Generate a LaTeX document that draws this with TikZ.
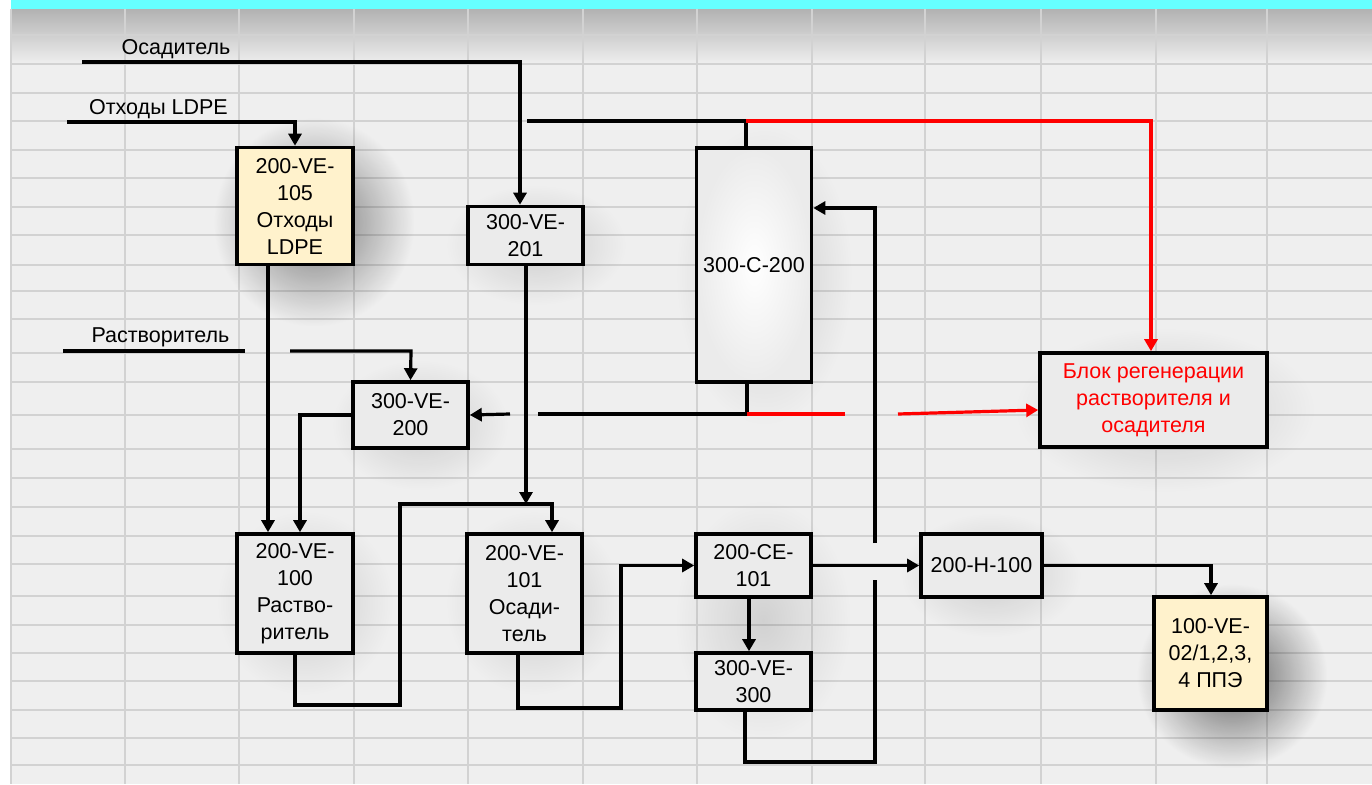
\documentclass[tikz,border=0pt]{standalone}
\usepackage{fontspec}
\setmainfont{Liberation Sans}
\usetikzlibrary{arrows.meta,fadings}
\definecolor{bgc}{HTML}{EFEFEF}
\definecolor{gridc}{HTML}{D2D2D2}
\definecolor{boxc}{HTML}{EBEBEB}
\definecolor{yelc}{HTML}{FFF2CC}
\definecolor{cyanc}{HTML}{66FFFF}
\definecolor{topgrey}{HTML}{B2B2B2}
\definecolor{redc}{HTML}{FF0000}
\tikzfading[name=fuzzy, inner color=transparent!0, outer color=transparent!100]
\newcommand\softblob[5]{\fill[black, opacity=#5, path fading=fuzzy] ({#1-#3},{#2-#4}) rectangle ({#1+#3},{#2+#4});}
\begin{document}
\begin{tikzpicture}[x=1pt,y=-1pt,
  every node/.style={font=\fontsize{21.5}{27}\selectfont},
  box/.style={draw=black, line width=3.6pt, inner sep=0pt, align=center, fill=boxc},
  ybox/.style={box, fill=yelc},
  lbl/.style={inner sep=0pt, anchor=base},
  wire/.style={line width=3.2pt, draw=black},
  warr/.style={wire, -{Triangle[length=12pt,width=13pt]}},
  rwire/.style={line width=3.2pt, draw=redc},
  rwarr/.style={rwire, -{Triangle[length=12pt,width=13pt]}},
  gridline/.style={draw=gridc, line width=1.6pt}
]
\useasboundingbox (0,0) rectangle (1372,784);
% background
\fill[white] (0,0) rectangle (1372,784);
\fill[bgc] (11,9) rectangle (1372,784);
\shade[top color=topgrey, bottom color=bgc] (11,9) rectangle (1372,64);
\foreach \gx in {11,125,239,354,468,583,697,812,925,1041,1156,1267}
  \draw[gridline] (\gx,9) -- (\gx,784);
\foreach \gy in {35,64,93,121,150,178,207,235,265,291,319,353,382,415,449,478,507,536,564,596,625,653,681,710,738,765}
  \draw[gridline] (11,\gy) -- (1372,\gy);
\fill[cyanc] (11,0) rectangle (1372,9);

% soft shadows
\softblob{314}{222}{100}{104}{0.5}
\softblob{1232}{676}{95}{92}{0.6}
\softblob{536}{245}{90}{60}{0.14}
\softblob{764}{275}{88}{150}{0.14}
\softblob{420}{425}{88}{65}{0.14}
\softblob{1165}{410}{150}{82}{0.14}
\softblob{305}{603}{88}{92}{0.14}
\softblob{534}{603}{88}{92}{0.14}
\softblob{763}{620}{88}{120}{0.12}
\softblob{991}{575}{90}{62}{0.14}

% nodes
\node[ybox, minimum width=116pt, minimum height=117pt] (v105) at (295,206) {200-VE-\\105\\Отходы\\LDPE};
\node[box, minimum width=115pt, minimum height=58pt] (v201) at (525.5,235.5) {300-VE-\\201};
\node[box, inner color=white, outer color=boxc, minimum width=115pt, minimum height=234pt] (c200) at (754,265) {300-C-200};
\node[box, minimum width=115pt, minimum height=66pt] (v200) at (410.5,415) {300-VE-\\200};
\node[box, text=redc, minimum width=227pt, minimum height=94pt] (regen) at (1153.5,400) {Блок регенерации\\растворителя и\\осадителя};
\node[box, minimum width=116pt, minimum height=119pt] (v100) at (295,593.5) {200-VE-\\100\\Раство-\\ритель};
\node[box, minimum width=115pt, minimum height=119pt] (v101) at (524.5,593.5) {200-VE-\\101\\Осади-\\тель};
\node[box, minimum width=115pt, minimum height=63pt] (ce101) at (753.5,565.5) {200-CE-\\101};
\node[box, minimum width=115pt, minimum height=57pt] (v300) at (753.5,681.5) {300-VE-\\300};
\node[box, minimum width=121pt, minimum height=63pt] (h100) at (981.5,565.5) {200-H-100};
\node[ybox, minimum width=113pt, minimum height=113pt] (v02) at (1210.5,653.5) {100-VE-\\02/1,2,3,\\4 ППЭ};

% labels
\node[lbl] (osL) at (176,55) {Осадитель};
\node[lbl] (ldL) at (158.5,114) {Отходы LDPE};
\node[lbl] (rsL) at (160.5,342) {Растворитель};

% free ends
\coordinate (osA) at (82,62);
\coordinate (ldA) at (67,122);
\coordinate (rsA) at (63,351);
\coordinate (rsB) at (245,351);
\coordinate (rsC) at (290,351);
\coordinate (ct) at (746,121);
\coordinate (ctL) at (527,121);
\coordinate (cb) at (747,414);
\coordinate (cbL) at (538,414);
\coordinate (cbA) at (510,414);
\coordinate (rdA) at (845,414);
\coordinate (rdB) at (898,414);
\coordinate (j1) at (526,504);
\coordinate (gapLo) at (875,580);
\coordinate (gapHi) at (875,543);

% connectors
\draw[warr] (osA) -- (520,62) -- (520,62 |- v201.north);
\draw[warr] (ldA) -- (295,122) -- (v105.north);
\draw[wire] (c200.north -| ct) -- (ct) -- (ctL);
\draw[rwarr] (ct) -- (1151,121) -- (1151,121 |- regen.north);
\draw[wire] (rsA) -- (rsB);
\draw[warr] (rsC) -- (411,351) -- (v200.north);
\draw[warr] (v105.south -| 268,0) -- (v100.north -| 268,0);
\draw[warr] (v200.west) -- (300,415) -- (v100.north -| 300,0);
\draw[warr] (v201.south -| j1) -- (j1);
\draw[warr] (v100.south) -- (295,705) -- (400,705) -- (400,504) -- (552,504) -- (v101.north -| 552,0);
\draw[warr] (v101.south -| 518,0) -- (518,708) -- (621,708) -- (621,565.5) -- (ce101.west);
\draw[warr] (ce101.east) -- (h100.west);
\draw[warr] (ce101.south -| 749,0) -- (v300.north -| 749,0);
\draw[wire] (v300.south -| 745,0) -- (745,762) -- (875,762) -- (gapLo);
\draw[warr] (gapHi) -- (875,208) -- (c200.east |- 0,208);
\draw[wire] (c200.south -| cb) -- (cb) -- (cbL);
\draw[warr] (cbA) -- (v200.east);
\draw[rwire] (cb) -- (rdA);
\draw[rwarr] (rdB) -- (regen.west |- 0,410);
\draw[warr] (h100.east) -- (1211,565.5) -- (v02.north -| 1211,0);
\end{tikzpicture}
\end{document}
